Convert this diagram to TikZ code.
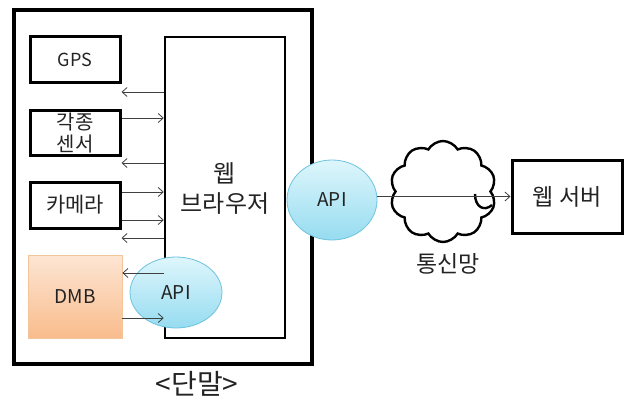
\documentclass[tikz,border=0pt]{standalone}
\usepackage{fontspec}
\setmainfont{Noto Sans CJK KR}
\usetikzlibrary{arrows.meta,shapes.geometric,shapes.symbols}
\definecolor{apitop}{RGB}{222,246,252}
\definecolor{apibot}{RGB}{150,220,240}
\definecolor{apidraw}{RGB}{110,195,222}
\definecolor{dmbtop}{RGB}{253,230,212}
\definecolor{dmbbot}{RGB}{249,188,140}
\definecolor{dmbdraw}{RGB}{244,196,155}
\definecolor{txt}{RGB}{35,35,35}
\begin{document}
\begin{tikzpicture}[x=1pt,y=-1pt,
  box/.style={draw=black,line width=3pt,minimum width=90pt,minimum height=45pt,inner sep=0pt,
    font=\fontsize{20}{22}\selectfont,text=txt,align=center},
  arr/.style={draw=black!75,line width=0.8pt,-{Straight Barb[length=5pt,width=9pt]}},
  api/.style={ellipse,draw=apidraw,line width=0.8pt,top color=apitop,bottom color=apibot,
    inner sep=0pt,font=\fontsize{19}{22}\selectfont,text=txt},
  lbl/.style={inner sep=0pt,text=txt,align=center}
]
\useasboundingbox (0,0) rectangle (628,404);
% terminal frame
\node[draw=black,line width=3.2pt,minimum width=298pt,minimum height=354pt,inner sep=0pt] (frame) at (163,187) {};
% web browser
\node[draw=black,line width=2.5pt,minimum width=120pt,minimum height=301pt,inner sep=0pt] (browser) at (225,187.5) {};
\node[lbl,font=\fontsize{24}{30}\selectfont] (btext) at (225,189) {웹\\브라우저};
% devices
\node[box,font=\fontsize{18}{20}\selectfont] (gps) at (75,59.5) {GPS};
\node[box] (sensor) at (75,133) {각종\\센서};
\node[box,minimum height=46pt,font=\fontsize{21}{24}\selectfont] (camera) at (75,205) {카메라};
\node[box,draw=dmbdraw,line width=0.8pt,top color=dmbtop,bottom color=dmbbot,minimum width=94pt,minimum height=83pt,font=\fontsize{19}{22}\selectfont] (dmb) at (75,296.5) {DMB};
% inner API
\node[api,minimum width=92pt,minimum height=71pt] (api1) at (176,292.5) {API};
% arrows device <-> browser
\draw[arr] (browser.west |- 0,92) -- (gps.east |- 0,92);
\draw[arr] (sensor.east |- 0,118) -- (browser.west |- 0,118);
\draw[arr] (browser.west |- 0,163) -- (sensor.east |- 0,163);
\draw[arr] (camera.east |- 0,192) -- (browser.west |- 0,192);
\draw[arr] (camera.east |- 0,220) -- (browser.west |- 0,220);
\draw[arr] (browser.west |- 0,238) -- (camera.east |- 0,238);
\draw[arr] (browser.west |- 0,273) -- (dmb.east |- 0,273);
\draw[arr] (dmb.east |- 0,318) -- (browser.west |- 0,318);
% outer API
\node[api,minimum width=90pt,minimum height=80pt] (api2) at (332,200) {API};
% network cloud
\node[cloud,draw=black,line width=2.4pt,fill=white,cloud puffs=10,cloud puff arc=120,aspect=1.05,
  minimum width=106pt,minimum height=101pt,inner sep=0pt] (cloud) at (443,191.5) {};
\draw[line width=2.4pt] (475,194) .. controls (475,207) and (484,212) .. (492,205);
% web server
\node[box,minimum width=110pt,minimum height=73pt,font=\fontsize{23}{26}\selectfont] (server) at (567,196.5) {웹 서버};
\draw[arr] (api2.east |- server.west) -- (server.west);
% labels
\node[lbl,font=\fontsize{23}{26}\selectfont] (net) at (448,264) {통신망};
\node[lbl,font=\fontsize{28}{30}\selectfont] (term) at (197,384) {<단말>};
\end{tikzpicture}
\end{document}
